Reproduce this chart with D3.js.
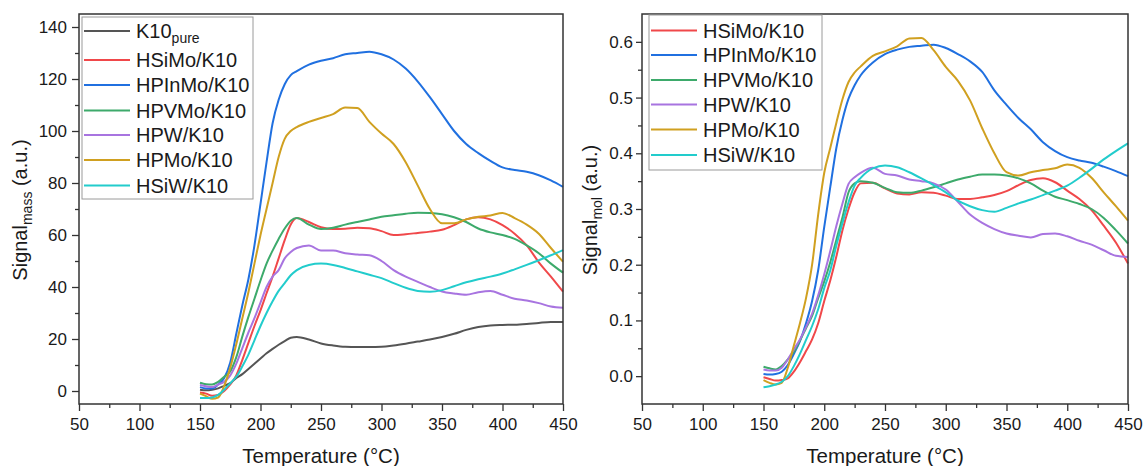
<!DOCTYPE html>
<html>
<head>
<meta charset="utf-8">
<script src="https://cdn.jsdelivr.net/npm/d3@7"></script>
<style>
  body { margin: 0; background: #fff; }
  svg { display: block; }
  text { font-family: "Liberation Sans", Arial, sans-serif; fill: #1a1a1a; }
</style>
</head>
<body>
<div id="content"></div>
<script>
// temperature grid (°C) shared by every curve
const temps = [150,155,160,165,170,175,180,185,190,195,200,205,210,215,220,225,230,
  240,250,260,270,280,290,300,310,320,330,340,350,360,370,380,390,400,410,420,430,440,450];

// left panel: signal per mass (a.u.)
const massK10 = [0.5,0.3,0.5,1,2,3,5,6.5,8.5,10.5,12.5,14.5,16.2,17.8,19.2,20.5,20.8,
  19.8,18.3,17.5,17,16.9,16.9,17,17.5,18.2,19,19.8,20.8,22,23.5,24.6,25.2,25.4,25.5,25.8,26.2,26.5,26.5];
const massHSiMo = [-0.6,-1,-1.8,-1.5,0,2.5,6,12,18.5,25,31,37.6,44,51,58,64,66.5,
  65,63,62.3,62.4,62.8,62.6,61.5,60,60.3,60.8,61.3,62,63.8,66,66.8,66,63.8,60.5,56,49.5,44,38.2];
const massHPInMo = [1.5,1,1,2.5,5,11,22,33,43,56,72,88,103,112,118,121.5,123,
  125.5,127,128,129.5,130,130.5,129.5,127.5,124,119,113,106.5,100,95,91.5,88.5,86,85,84.3,83,81,78.5];
const massHPVMo = [3.2,2.6,2.5,3.5,5.5,7.5,13,21,28.5,35.5,42.5,49,54,58.5,62.5,65.5,66.5,
  64,62.3,62.8,64,65,66,67,67.6,68.2,68.6,68.5,68,66.8,65,62.5,61,60,58.5,56,53,49,45.5];
const massHPW = [2.3,1.8,1.5,2.5,3.5,6,10.5,16.5,22.5,28,34,40,44,46.5,51,53.5,55,
  56,54,54,53,52.5,52.2,50,46.5,44,42,40,38.3,37.5,37,38,38.5,37,35.5,34.8,33.8,32.5,32];
const massHPMo = [-1,-2,-3,-2.5,2,9,18,28,38,49,60,70,80,90,97,100,101.5,
  103.5,105,106.5,109,108.8,103.5,99,95,88,79,70,64.5,64.5,66,67,67.5,68.5,66.5,64,60.5,55,49.7];
const massHSiW = [-2.7,-2.7,-2.5,-1.5,0.5,3,5.5,9.5,14,19.5,25,30,34.5,38.5,41.5,44.5,46.5,
  48.5,49,48.5,47.3,46,44.7,43.4,41.5,39.7,38.5,38.2,38.8,40.3,41.8,43,44,45.2,46.8,48.5,50.3,52.2,54.2];

// right panel: signal per mol (a.u.)
const molHSiMo = [-0.002,-0.005,-0.008,-0.007,-0.004,0.008,0.025,0.045,0.066,0.095,0.135,0.172,0.215,0.262,0.3,0.33,0.346,
  0.347,0.337,0.328,0.326,0.33,0.329,0.324,0.318,0.318,0.321,0.325,0.332,0.343,0.352,0.355,0.348,0.333,0.318,0.298,0.27,0.24,0.202];
const molHPInMo = [0.004,0.003,0.004,0.008,0.02,0.04,0.063,0.095,0.135,0.19,0.268,0.34,0.41,0.46,0.498,0.522,0.54,
  0.563,0.578,0.586,0.591,0.593,0.595,0.589,0.578,0.565,0.546,0.513,0.487,0.463,0.443,0.42,0.404,0.393,0.387,0.383,0.376,0.368,0.359];
const molHPVMo = [0.017,0.014,0.012,0.018,0.03,0.044,0.064,0.086,0.108,0.14,0.17,0.205,0.245,0.285,0.33,0.346,0.35,
  0.347,0.338,0.33,0.329,0.333,0.339,0.346,0.353,0.358,0.362,0.362,0.36,0.355,0.346,0.333,0.322,0.316,0.309,0.3,0.284,0.262,0.238];
const molHPW = [0.012,0.01,0.01,0.015,0.03,0.048,0.066,0.088,0.112,0.145,0.183,0.225,0.27,0.31,0.345,0.357,0.365,
  0.374,0.363,0.36,0.353,0.35,0.346,0.335,0.313,0.29,0.275,0.264,0.256,0.252,0.249,0.255,0.256,0.251,0.243,0.236,0.226,0.216,0.214];
const molHPMo = [-0.007,-0.012,-0.015,-0.012,0.015,0.055,0.095,0.14,0.2,0.29,0.365,0.41,0.455,0.497,0.528,0.545,0.556,
  0.575,0.583,0.592,0.606,0.607,0.585,0.555,0.53,0.495,0.445,0.4,0.366,0.36,0.366,0.37,0.373,0.38,0.374,0.356,0.33,0.305,0.279];
const molHSiW = [-0.02,-0.018,-0.015,-0.01,0,0.018,0.04,0.065,0.09,0.12,0.158,0.19,0.235,0.275,0.312,0.342,0.356,
  0.373,0.378,0.375,0.366,0.355,0.343,0.33,0.315,0.305,0.298,0.295,0.302,0.31,0.317,0.325,0.333,0.342,0.356,0.372,0.389,0.404,0.418];

const colors = {
  K10: '#555555', HSiMo: '#F0484A', HPInMo: '#2070E0', HPVMo: '#3DAA6B',
  HPW: '#A874E0', HPMo: '#D0A020', HSiW: '#22CCCC',
};

const massSeries = [
  { name: 'K10', sub: 'pure', color: colors.K10, values: massK10 },
  { name: 'HSiMo/K10', color: colors.HSiMo, values: massHSiMo },
  { name: 'HPInMo/K10', color: colors.HPInMo, values: massHPInMo },
  { name: 'HPVMo/K10', color: colors.HPVMo, values: massHPVMo },
  { name: 'HPW/K10', color: colors.HPW, values: massHPW },
  { name: 'HPMo/K10', color: colors.HPMo, values: massHPMo },
  { name: 'HSiW/K10', color: colors.HSiW, values: massHSiW },
];
const molSeries = [
  { name: 'HSiMo/K10', color: colors.HSiMo, values: molHSiMo },
  { name: 'HPInMo/K10', color: colors.HPInMo, values: molHPInMo },
  { name: 'HPVMo/K10', color: colors.HPVMo, values: molHPVMo },
  { name: 'HPW/K10', color: colors.HPW, values: molHPW },
  { name: 'HPMo/K10', color: colors.HPMo, values: molHPMo },
  { name: 'HSiW/K10', color: colors.HSiW, values: molHSiW },
];

const W = 1143, H = 466;
const plotTop = 14, plotBottom = 404;

const svg = d3.select('#content').append('svg')
  .attr('width', W).attr('height', H);

const drawPanel = (opts) => {
  const x = d3.scaleLinear().domain([50, 450]).range([opts.left, opts.right]);
  const y = d3.scaleLinear().domain(opts.yDomain).range([plotBottom, plotTop]);
  const g = svg.append('g');

  // minor ticks first, then major
  g.append('g').attr('transform', `translate(0,${plotBottom})`)
    .call(d3.axisBottom(x).tickValues(d3.range(75, 450, 50)).tickSize(4).tickFormat(''));
  g.append('g').attr('transform', `translate(0,${plotBottom})`)
    .call(d3.axisBottom(x).tickValues(d3.range(50, 451, 50)).tickSize(7).tickPadding(7));
  g.append('g').attr('transform', `translate(${opts.left},0)`)
    .call(d3.axisLeft(y).tickValues(opts.yMinor).tickSize(4).tickFormat(''));
  g.append('g').attr('transform', `translate(${opts.left},0)`)
    .call(d3.axisLeft(y).tickValues(opts.yMajor).tickSize(opts.yTick).tickPadding(opts.yPad)
      .tickFormat(opts.yFormat));
  g.selectAll('.domain').remove();
  g.selectAll('.tick line').attr('stroke', '#333').attr('stroke-width', 1.3);
  g.selectAll('.tick text').attr('font-size', 17).attr('fill', '#1a1a1a')
    .attr('font-family', '"Liberation Sans", Arial, sans-serif');

  const line = d3.line()
    .x((d, i) => x(temps[i]))
    .y(d => y(d))
    .curve(d3.curveMonotoneX);

  g.selectAll('path.series').data(opts.series).enter().append('path')
    .attr('class', 'series')
    .attr('d', s => line(s.values))
    .attr('fill', 'none')
    .attr('stroke', s => s.color)
    .attr('stroke-width', 2)
    .attr('stroke-linejoin', 'round');

  g.append('rect')
    .attr('x', opts.left).attr('y', plotTop)
    .attr('width', opts.right - opts.left).attr('height', plotBottom - plotTop)
    .attr('fill', 'none').attr('stroke', '#333').attr('stroke-width', 1.5);

  // legend
  const lg = opts.legend;
  g.append('rect')
    .attr('x', lg.x).attr('y', lg.y).attr('width', lg.w).attr('height', lg.h)
    .attr('fill', '#fff').attr('stroke', '#9a9a9a').attr('stroke-width', 1);
  opts.series.forEach((s, i) => {
    const ry = lg.rows[i];
    g.append('line')
      .attr('x1', lg.x + 2).attr('x2', lg.x + 48).attr('y1', ry).attr('y2', ry)
      .attr('stroke', s.color).attr('stroke-width', 2);
    const t = g.append('text')
      .attr('x', lg.x + 54).attr('y', ry + 7).attr('font-size', 20).text(s.name);
    if (s.sub) t.append('tspan').attr('font-size', 14).attr('dy', 5).text(s.sub);
  });

  // axis titles
  g.append('text')
    .attr('x', (opts.left + opts.right) / 2).attr('y', 463)
    .attr('text-anchor', 'middle').attr('font-size', 20.5)
    .text('Temperature (°C)');
  const yt = g.append('text')
    .attr('transform', `translate(${opts.yTitleX},210) rotate(-90)`)
    .attr('text-anchor', 'middle').attr('font-size', 20);
  yt.append('tspan').text('Signal');
  yt.append('tspan').attr('font-size', 14).attr('dy', 5).text(opts.yTitleSub);
  yt.append('tspan').attr('dy', -5).text(' (a.u.)');
};

drawPanel({
  left: 79, right: 563,
  yDomain: [-5, 145],
  yMajor: d3.range(0, 141, 20),
  yMinor: d3.range(10, 141, 20),
  yTick: 7, yPad: 5,
  yFormat: d3.format('d'),
  series: massSeries,
  legend: { x: 82, y: 17, w: 171, h: 182, rows: [31, 60, 85, 110.5, 135, 160, 185.5] },
  yTitleX: 27, yTitleSub: 'mass',
});

drawPanel({
  left: 642, right: 1128,
  yDomain: [-0.05, 0.65],
  yMajor: d3.range(0, 6.5).map(d => d / 10),
  yMinor: d3.range(0, 6).map(d => d / 10 + 0.05),
  yTick: 6, yPad: 3,
  yFormat: d3.format('.1f'),
  series: molSeries,
  legend: { x: 649, y: 15, w: 173, h: 155, rows: [30.5, 55, 80, 104.5, 129.5, 155] },
  yTitleX: 597, yTitleSub: 'mol',
});
</script>
</body>
</html>
